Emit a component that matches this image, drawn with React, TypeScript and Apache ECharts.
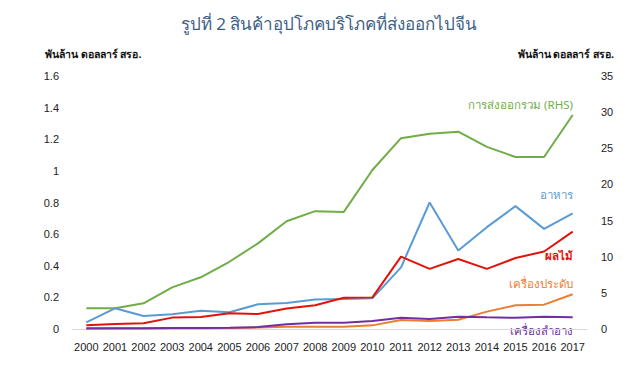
import React, { useEffect, useRef } from "react";
import * as echarts from "echarts";

const years = ["2000","2001","2002","2003","2004","2005","2006","2007","2008","2009","2010","2011","2012","2013","2014","2015","2016","2017"];
const totalExports = [2.86,2.86,3.55,5.76,7.15,9.3,11.85,14.9,16.3,16.2,22.0,26.4,27.0,27.3,25.2,23.8,23.8,29.6];
const food = [0.042,0.131,0.082,0.093,0.116,0.106,0.156,0.165,0.186,0.19,0.194,0.39,0.80,0.496,0.644,0.777,0.633,0.732];
const fruit = [0.023,0.032,0.036,0.072,0.076,0.099,0.095,0.129,0.15,0.198,0.2,0.458,0.38,0.443,0.38,0.449,0.49,0.616];
const jewelry = [0.002,0.003,0.003,0.004,0.005,0.006,0.01,0.015,0.015,0.015,0.023,0.057,0.051,0.059,0.11,0.15,0.154,0.22];
const cosmetics = [0.004,0.005,0.005,0.006,0.007,0.008,0.012,0.03,0.04,0.04,0.05,0.071,0.063,0.078,0.074,0.071,0.078,0.074];
const leftTicks = { min: 0, max: 1.6, interval: 0.2 };
const rightTicks = { min: 0, max: 35, interval: 5 };

const FONT = "'Liberation Sans', Arial, sans-serif";
const THAI = "Tahoma, 'Noto Sans', sans-serif";

export default function App() {
  const ref = useRef<HTMLDivElement>(null);
  useEffect(() => {
    if (!ref.current) return;
    const chart = echarts.init(ref.current, null, { renderer: "svg" });
    const mk = (name: string, data: number[], color: string, yi: number) => ({
      name, type: "line", data, yAxisIndex: yi, symbol: "none",
      lineStyle: { color, width: 2 }, itemStyle: { color },
    });
    chart.setOption({
      animation: false,
      backgroundColor: "#ffffff",
      grid: { left: 72, right: 41, top: 76, bottom: 41 },
      xAxis: {
        type: "category", data: years, boundaryGap: true,
        axisLine: { lineStyle: { color: "#d9d9d9", width: 1 } },
        axisTick: { show: false },
        axisLabel: { color: "#222", fontSize: 11, fontFamily: FONT, margin: 12, interval: 0 },
      },
      yAxis: [
        { type: "value", ...leftTicks, position: "left",
          axisLine: { show: false }, axisTick: { show: false }, splitLine: { show: false },
          axisLabel: { color: "#222", fontSize: 11, fontFamily: FONT, margin: 13 } },
        { type: "value", ...rightTicks, position: "right",
          axisLine: { show: false }, axisTick: { show: false }, splitLine: { show: false },
          axisLabel: { color: "#222", fontSize: 11, fontFamily: FONT, margin: 14 } },
      ],
      series: [
        mk("การส่งออกรวม (RHS)", totalExports, "#70ad47", 1),
        mk("อาหาร", food, "#5b9bd5", 0),
        mk("ผลไม้", fruit, "#e3120b", 0),
        mk("เครื่องประดับ", jewelry, "#ed7d31", 0),
        mk("เครื่องสำอาง", cosmetics, "#7030a0", 0),
      ],
      graphic: [
        { type: "text", x: 329, y: 23, style: { text: "รูปที่ 2 สินค้าอุปโภคบริโภคที่ส่งออกไปจีน", fill: "#3f5f86", fontSize: 17, fontFamily: THAI, align: "center", verticalAlign: "middle" } },
        { type: "text", x: 45, y: 54, style: { text: "พันล้าน ดอลลาร์ สรอ.", fill: "#111", fontSize: 10.5, fontWeight: "bold", fontFamily: THAI, align: "left", verticalAlign: "middle" } },
        { type: "text", x: 614, y: 54, style: { text: "พันล้าน ดอลลาร์ สรอ.", fill: "#111", fontSize: 10.5, fontWeight: "bold", fontFamily: THAI, align: "right", verticalAlign: "middle" } },
        { type: "text", x: 573, y: 104, style: { text: "การส่งออกรวม (RHS)", fill: "#70ad47", fontSize: 11.5, fontFamily: THAI, align: "right", verticalAlign: "middle" } },
        { type: "text", x: 573, y: 194, style: { text: "อาหาร", fill: "#5b9bd5", fontSize: 11.5, fontFamily: THAI, align: "right", verticalAlign: "middle" } },
        { type: "text", x: 573, y: 255, style: { text: "ผลไม้", fill: "#e3120b", fontSize: 11.5, fontWeight: "bold", fontFamily: THAI, align: "right", verticalAlign: "middle" } },
        { type: "text", x: 573, y: 283, style: { text: "เครื่องประดับ", fill: "#ed7d31", fontSize: 11.5, fontFamily: THAI, align: "right", verticalAlign: "middle" } },
        { type: "text", x: 573, y: 330, style: { text: "เครื่องสำอาง", fill: "#7030a0", fontSize: 11.5, fontFamily: THAI, align: "right", verticalAlign: "middle" } },
      ],
    });
    return () => chart.dispose();
  }, []);
  return <div ref={ref} style={{ width: 628, height: 370, position: "absolute", left: 0, top: 0 }} />;
}
